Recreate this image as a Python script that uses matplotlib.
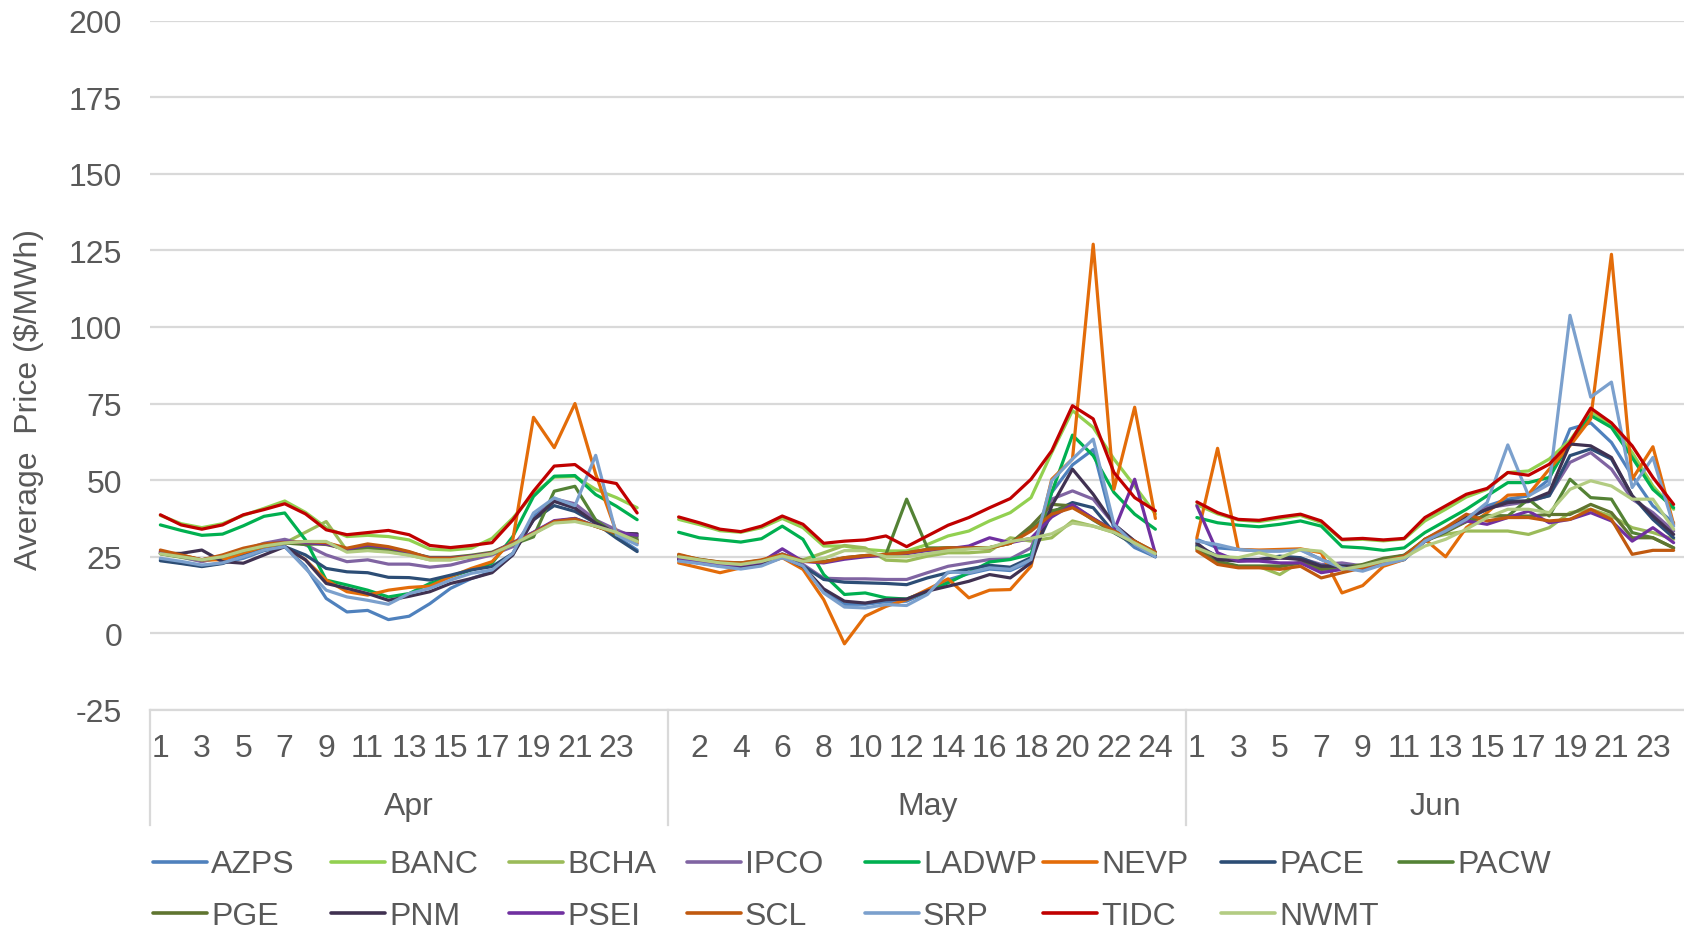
import matplotlib
matplotlib.use('Agg')
import matplotlib.pyplot as plt
import matplotlib.transforms as mtransforms
from matplotlib.lines import Line2D

plt.rcParams['font.family'] = ['Liberation Sans', 'DejaVu Sans']
plt.rcParams['axes.unicode_minus'] = False

months = ['Apr', 'May', 'Jun']
hours = list(range(1, 25))
y_ticks = [-25, 0, 25, 50, 75, 100, 125, 150, 175, 200]

names = ['AZPS', 'BANC', 'BCHA', 'IPCO', 'LADWP', 'NEVP', 'PACE', 'PACW',
         'PGE', 'PNM', 'PSEI', 'SCL', 'SRP', 'TIDC', 'NWMT']
colors = ['#4F81BD', '#92D050', '#9BBB59', '#8064A2', '#00B050', '#E36C09',
          '#2C4D75', '#548235', '#5F7530', '#403151', '#7030A0', '#C0590F',
          '#7BA0CD', '#C00000', '#B3CC82']

# hourly averages: Apr 1-24, May 1-24, Jun 1-24
AZPS = [24, 23, 22, 23, 24.5, 27, 28.3, 21.8, 11.4, 7, 7.5, 4.5, 5.6, 9.7, 14.7, 17.9, 20.1, 25.6, 38.2, 43.1, 40.9, 36, 31.6, 27.2,
        24, 23, 22, 21.2, 22.3, 24.8, 21.8, 14, 9.5, 9.5, 10.3, 10.5, 13.5, 17.5, 19.5, 21, 20.5, 23.5, 46, 55, 60, 34, 28, 25,
        30.7, 27.9, 27.4, 26.9, 26.9, 27.4, 24.1, 21.9, 20.9, 22.5, 24.1, 30.1, 33.4, 37.2, 41.6, 43.8, 44.9, 50.3, 66.7, 68.7, 62.3, 51.4, 41.6, 36.1]
BANC = [38.5, 35.8, 34.5, 35.8, 38.5, 40.8, 43.2, 39.5, 34.5, 31.6, 32, 31.6, 30.5, 27.5, 27.2, 27.8, 31, 37.6, 45.5, 51, 51.2, 47, 44.3, 41,
        37.2, 35.5, 33.5, 33, 34.5, 37.5, 34.5, 28.5, 28.5, 27.4, 26.9, 26.9, 29, 31.8, 33.4, 36.7, 39.4, 44.3, 59, 72.7, 67.2, 56.9, 48.1, 39,
        42, 39, 37, 36.5, 37.5, 38.5, 36.2, 30.5, 30.7, 30.2, 30.8, 36.7, 40.5, 44.5, 47, 52.5, 53, 56.9, 63, 72.3, 68, 59, 48.1, 40.5]
BCHA = [26, 24.8, 23.6, 24.5, 26.5, 28, 29.5, 33, 36.5, 27, 27.2, 26.7, 25.6, 24, 24, 25, 26, 29.4, 33, 36.5, 37, 35, 33.4, 30.5,
        25.5, 24, 23, 22.8, 23.5, 25.5, 24, 26.3, 28.7, 27.9, 23.9, 23.6, 25.2, 26.3, 26.3, 26.8, 31.2, 30.1, 31.2, 36.7, 35, 32.9, 29, 26,
        29, 23.4, 21.8, 21.8, 19.2, 23.4, 21.8, 20.9, 21.9, 24.1, 25.2, 30.7, 32.3, 33.4, 33.4, 33.4, 32.3, 34.5, 39.4, 40.5, 38.3, 34.5, 32.9, 30.7]
IPCO = [26.1, 25, 23.4, 25, 27.2, 29.4, 30.7, 28.9, 25.6, 23.4, 24, 22.6, 22.6, 21.6, 22.3, 24, 25.6, 28.3, 37, 43.9, 42.3, 37, 33.8, 31,
        24.5, 23.5, 22.5, 22.3, 23, 26, 22.5, 18, 17.8, 17.8, 17.6, 17.6, 19.8, 21.9, 23, 24.1, 24.3, 27.9, 43.8, 46.5, 43.8, 35.6, 30, 26,
        29, 25, 24, 24, 24.5, 24.5, 22.5, 23, 22, 23.5, 25, 30.5, 33.5, 38, 41, 42, 43, 45, 55.8, 59, 53.6, 43.8, 39.4, 33.4]
LADWP = [35.4, 33.6, 32, 32.4, 35.1, 38.2, 39.3, 30.5, 17.4, 15.8, 14.1, 11.9, 13, 16.3, 18.5, 20.7, 22.9, 31.6, 44.7, 51.3, 51.5, 45.3, 41.5, 37.1,
         33, 31.2, 30.5, 29.8, 30.9, 35, 30.7, 19.2, 12.7, 13.2, 11.6, 11.2, 13.8, 16.5, 19.8, 23.3, 24.1, 25.8, 46, 64.7, 58, 46, 38.9, 34,
         37.8, 36.1, 35.3, 34.8, 35.6, 36.7, 35, 28.3, 27.9, 27.1, 27.9, 32.9, 36.7, 40.5, 44.9, 49.2, 49.2, 50.9, 62.3, 71.1, 67.2, 57.4, 47, 41]
NEVP = [26.7, 25.6, 24, 24, 26.1, 27.8, 28.3, 24, 17.4, 13.6, 12.5, 14.1, 15, 15.4, 18.5, 21.2, 23.4, 30.5, 70.5, 60.6, 75, 52, 33, 30,
        23, 21.4, 19.8, 21.4, 22.5, 24.7, 20.9, 11, -3.4, 5.6, 8.8, 11, 14.3, 17.8, 11.6, 14.1, 14.3, 21.9, 50.3, 56.9, 127, 47, 73.8, 37.5,
        31.2, 60.4, 27.4, 27.2, 27.4, 27.6, 26.3, 13.2, 15.6, 21.9, 24.1, 30.7, 25, 34.5, 39.4, 45.1, 45.4, 53.6, 61.2, 70, 123.7, 50.3, 60.9, 35.6]
PACE = [23.7, 22.8, 21.8, 22.8, 25.2, 27.2, 28.3, 25.6, 21.2, 20.1, 19.8, 18.3, 18.2, 17.4, 19, 20.7, 21.8, 26.1, 37.1, 41.7, 39.8, 36, 31.1, 26.7,
        24, 23, 22.2, 22, 22.8, 25, 22, 17.6, 16.7, 16.5, 16.3, 15.9, 18.1, 19.8, 21, 22.2, 21.6, 24.7, 39.4, 42.7, 41, 32.9, 29, 25,
        28.5, 25.2, 24.1, 24.1, 25.2, 24.7, 22, 22, 21.9, 23.5, 24.1, 30.7, 34, 37.2, 40.5, 43.2, 43.2, 44.9, 58, 60.2, 56.9, 44.9, 37.2, 31.2]
PACW = [26, 25, 24, 25, 27, 28.5, 29.5, 29, 29.5, 27, 28, 27, 26, 24.5, 24.5, 25, 26, 29, 31.5, 46.4, 48, 37, 32, 31.6,
        25, 24, 23, 22.8, 23.5, 25.5, 23.5, 23.5, 24.5, 25.3, 25.8, 43.8, 27.9, 27.9, 28, 28, 29.4, 34, 40, 41.5, 37, 33, 30, 26.5,
        27.5, 23.5, 22, 22, 22, 23.2, 21, 21, 22, 24, 25.5, 30.5, 33.5, 36.5, 38.5, 38.3, 43.8, 38.3, 50.3, 44.3, 43.8, 32.9, 31.2, 27.9]
PGE = [26.5, 25.3, 24, 25.2, 27.3, 28.8, 29.6, 29.4, 29, 27.5, 28.5, 27.5, 26.3, 24.8, 24.8, 25.5, 26.5, 29.5, 32.5, 36.5, 37.5, 35, 32.5, 30.5,
       25.5, 24.2, 23.2, 23, 23.8, 25.8, 23.8, 23.3, 24.7, 25.4, 25.8, 26.3, 27.4, 27.9, 27.9, 28, 29.4, 35, 42.1, 41.6, 37.5, 33.4, 30, 26,
       27.9, 23, 21.8, 21.8, 21.8, 23, 20.9, 21.4, 22.5, 24.5, 25.5, 30, 33, 36.5, 38.3, 38.3, 38.3, 38.8, 38.8, 42.1, 39.4, 31.2, 31.2, 27.9]
PNM = [26.1, 26.1, 27.2, 23.4, 22.9, 25.6, 28.3, 24, 16.3, 14.7, 13, 10.8, 12.1, 13.6, 16.3, 17.9, 19.8, 25.6, 37.1, 43.1, 40.9, 36, 32.7, 32.5,
       24, 23, 22, 21.5, 22.5, 25, 21.8, 14.5, 10.5, 9.9, 11, 11.2, 13.8, 15.4, 17, 19.2, 18.1, 23, 41.6, 53.6, 45.4, 35.6, 30.1, 25.5,
       29.5, 24.1, 23.6, 24.1, 24.7, 24.1, 21.9, 21.9, 21.4, 23, 24.7, 30.1, 33.4, 37.8, 40.5, 42.7, 43.2, 46, 61.8, 61.2, 57.4, 44.9, 38.3, 32.3]
PSEI = [26.5, 25.2, 24, 25.3, 27.4, 29, 29.8, 29.6, 29.2, 27.5, 28.8, 28, 26.5, 24.6, 24.6, 25.2, 26.2, 29.6, 33, 36.8, 37.5, 35, 33, 32,
        24.5, 23.5, 22.5, 22.3, 23.3, 27.6, 23.5, 23, 24.2, 25, 25.5, 26, 27, 27.6, 28.5, 31.2, 29.6, 31, 38, 42, 37.5, 33.5, 50.3, 26,
        41.6, 26.3, 23.6, 23.6, 23, 23, 19.8, 20.9, 20.9, 23, 25.2, 30.1, 33.9, 36.7, 35.6, 37.8, 39.9, 36.1, 37.2, 39.4, 36.7, 30.1, 34.5, 29.6]
SCL = [27.2, 25.6, 24, 25.6, 27.8, 29.2, 29.6, 30, 29.6, 27.8, 29.2, 28.3, 26.7, 24.5, 24.5, 25, 26.1, 29.4, 32.7, 36.5, 37.3, 34.9, 32.7, 29.4,
       25.8, 24.1, 23.3, 23, 24, 25.8, 23.6, 23.3, 24.7, 25.4, 25.8, 26.3, 27.4, 27.9, 27.9, 27.9, 29.4, 33.4, 38.9, 41, 37.2, 33.4, 30.1, 26.5,
       26.9, 22.5, 21.4, 21.4, 20.9, 21.9, 18.1, 19.8, 21.4, 23.5, 25.2, 30.7, 34.5, 38.9, 36.7, 37.8, 37.8, 36.7, 37.2, 40.5, 37.2, 25.8, 27.1, 27.1]
SRP = [24.5, 23.5, 22.3, 23, 25, 27.2, 28.3, 21.2, 14.1, 11.9, 10.8, 9.5, 13, 14.7, 17.4, 19.6, 20.7, 26.1, 39.3, 44.2, 41.7, 58.1, 32.2, 28.9,
       23.6, 22.8, 21.8, 21, 22, 24.7, 22, 13.2, 8.6, 8.3, 9.4, 9.1, 12.7, 20, 19.8, 21.4, 20.9, 24.1, 49.8, 56.9, 63.4, 35.6, 29, 25,
       30.1, 29, 27.4, 26.9, 26.9, 27.2, 24.1, 21.4, 20.3, 22.5, 24.1, 30.1, 33.4, 37.2, 42.7, 61.5, 44.9, 48.7, 103.8, 77.1, 82, 47.6, 57.4, 35]
TIDC = [38.7, 35.4, 34, 35.4, 38.7, 40.4, 42.3, 39, 33.8, 32.2, 32.9, 33.6, 32.2, 28.7, 28, 28.7, 29.6, 37, 46.4, 54.6, 55.1, 50.2, 48.9, 39.3,
        38, 36.1, 34, 33.2, 35, 38.3, 35.6, 29.4, 30.1, 30.5, 31.8, 28.3, 31.8, 35.3, 37.8, 41, 44, 50.3, 59.6, 74.3, 70, 52.5, 44.3, 40,
        42.9, 39.4, 37.2, 36.9, 38, 38.9, 36.7, 30.7, 31, 30.5, 31, 37.8, 41.6, 45.4, 47.3, 52.5, 51.6, 55.2, 62.3, 73.5, 68.7, 61.2, 50.9, 42.1]
NWMT = [26, 25, 24, 25, 27, 28.5, 29.5, 30, 30, 26.5, 27, 26.5, 25.5, 24, 24, 25, 26, 29, 32.5, 36, 36.5, 35, 33, 30,
        25, 24, 23, 22.5, 23.5, 25.3, 23.5, 24.5, 27, 27, 25, 25, 26, 27, 27.5, 28, 30, 31, 32.5, 36, 35, 33, 29.5, 26,
        27.9, 25.2, 24.7, 26.3, 24.7, 27.4, 26.8, 20.9, 22, 23.6, 24.7, 28.5, 30.7, 34, 37.8, 40.5, 40.5, 39.4, 47, 49.8, 48.1, 43.8, 43.8, 34]

series = [AZPS, BANC, BCHA, IPCO, LADWP, NEVP, PACE, PACW, PGE, PNM, PSEI, SCL, SRP, TIDC, NWMT]

W, H = 1684, 929
fig = plt.figure(figsize=(W / 100, H / 100), dpi=100)
ax = fig.add_axes([150 / W, 1 - 711 / H, 1 - 150 / W, (711 - 21.5) / H])

grid_c = '#D9D9D9'
text_c = '#595959'
fs = 23

# each month takes 25 category slots (last one blank), June only 24
slot = 25
for vals, c in zip(series, colors):
    for mi in range(len(months)):
        xs = [mi * slot + h - 1 for h in hours]
        ax.plot(xs, vals[mi * 24:(mi + 1) * 24], color=c, lw=2.3,
                solid_joinstyle='round', solid_capstyle='round', zorder=3)

ax.set_xlim(-0.5, 2 * slot + 24 - 0.5)
ax.set_ylim(-25, 200)
ax.set_yticks(y_ticks)
ax.yaxis.grid(True, color=grid_c, lw=1.6, zorder=0)
ax.set_axisbelow(True)
for s in ['left', 'right', 'top']:
    ax.spines[s].set_visible(False)
ax.spines['bottom'].set_color(grid_c)
ax.spines['bottom'].set_linewidth(1.6)
ax.tick_params(axis='y', length=0, pad=20, labelsize=fs, labelcolor=text_c)

ticks, labels = [], []
for mi in range(len(months)):
    for h in hours:
        k = mi * slot + h - 1
        if k % 2 == 0:
            ticks.append(k)
            labels.append(str(h))
ax.set_xticks(ticks)
ax.set_xticklabels(labels)
ax.tick_params(axis='x', length=0, pad=16.5, labelsize=fs, labelcolor=text_c)

trans = mtransforms.blended_transform_factory(ax.transData, ax.transAxes)
ax_h = 711 - 21.5
for mi, m in enumerate(months):
    start = mi * slot - 0.5
    end = min(start + slot, ax.get_xlim()[1])
    ax.plot([start, start], [0, -(826 - 711) / ax_h], transform=trans,
            color=grid_c, lw=1.6, clip_on=False)
    ax.text((start + end) / 2, -(815 - 711) / ax_h, m, transform=trans,
            ha='center', va='baseline', fontsize=fs, color=text_c)

fig.text(29 / W, 1 - 400 / H, 'Average  Price ($/MWh)', rotation=90,
         ha='center', va='center', fontsize=fs, color=text_c)

# legend, two rows of eight fixed-width columns
for i, (n, c) in enumerate(zip(names, colors)):
    row, col = divmod(i, 8)
    x0 = 153 + col * 178
    y0 = 862.5 + row * 51.5
    fig.add_artist(Line2D([x0 / W, (x0 + 54) / W], [1 - y0 / H, 1 - y0 / H],
                          color=c, lw=2.6, solid_capstyle='round'))
    fig.text((x0 + 58) / W, 1 - (y0 + 11) / H, n, ha='left', va='baseline',
             fontsize=fs, color=text_c)

fig.savefig('out.png', dpi=100)
